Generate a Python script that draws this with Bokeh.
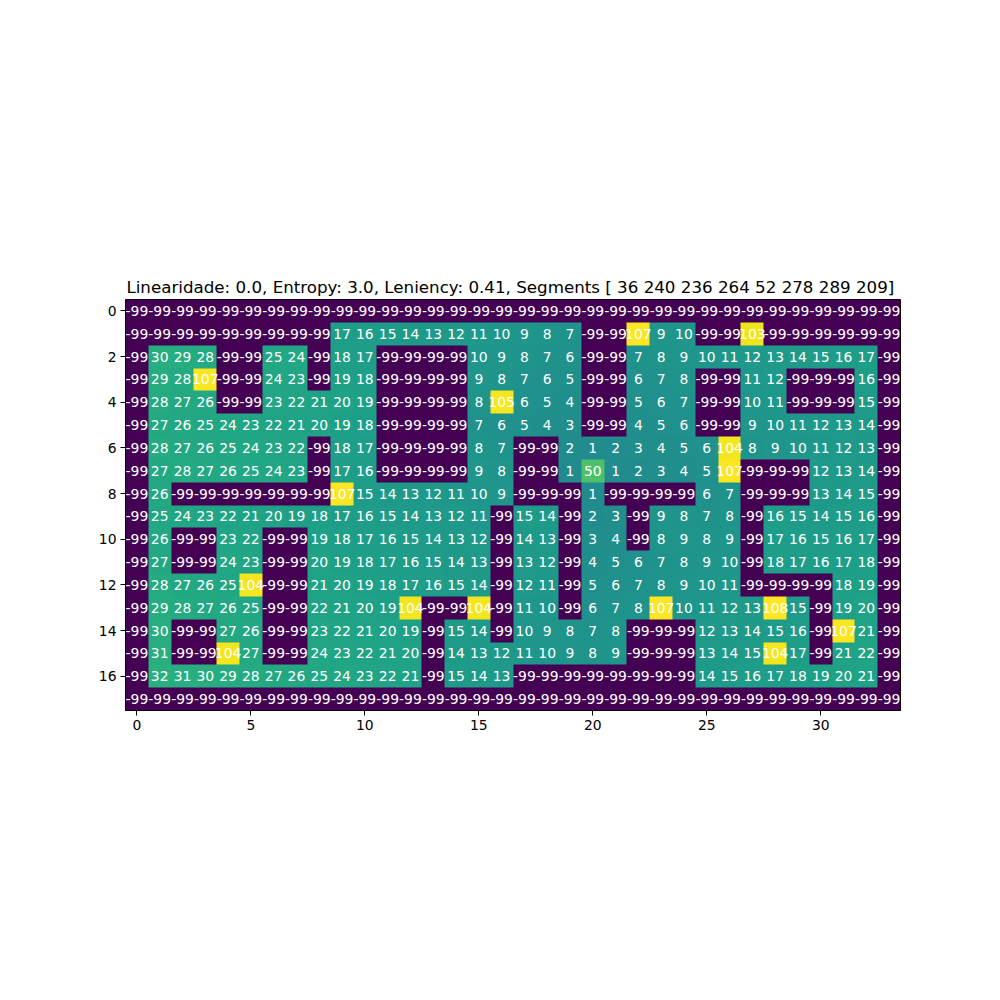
import numpy as np
from bokeh.plotting import figure
from bokeh.models import ColumnDataSource, LinearColorMapper, Range1d, FixedTicker
from bokeh.palettes import Viridis256
from bokeh.core.properties import value
from bokeh.embed import file_html
from bokeh.resources import INLINE

title_text = "Linearidade: 0.0, Entropy: 3.0, Leniency: 0.41, Segments [ 36 240 236 264  52 278 289 209]"

N = -99
grid = [
    [N]*34,
    [N, N, N, N, N, N, N, N, N, 17, 16, 15, 14, 13, 12, 11, 10, 9, 8, 7, N, N, 107, 9, 10, N, N, 103, N, N, N, N, N, N],
    [N, 30, 29, 28, N, N, 25, 24, N, 18, 17, N, N, N, N, 10, 9, 8, 7, 6, N, N, 7, 8, 9, 10, 11, 12, 13, 14, 15, 16, 17, N],
    [N, 29, 28, 107, N, N, 24, 23, N, 19, 18, N, N, N, N, 9, 8, 7, 6, 5, N, N, 6, 7, 8, N, N, 11, 12, N, N, N, 16, N],
    [N, 28, 27, 26, N, N, 23, 22, 21, 20, 19, N, N, N, N, 8, 105, 6, 5, 4, N, N, 5, 6, 7, N, N, 10, 11, N, N, N, 15, N],
    [N, 27, 26, 25, 24, 23, 22, 21, 20, 19, 18, N, N, N, N, 7, 6, 5, 4, 3, N, N, 4, 5, 6, N, N, 9, 10, 11, 12, 13, 14, N],
    [N, 28, 27, 26, 25, 24, 23, 22, N, 18, 17, N, N, N, N, 8, 7, N, N, 2, 1, 2, 3, 4, 5, 6, 104, 8, 9, 10, 11, 12, 13, N],
    [N, 27, 28, 27, 26, 25, 24, 23, N, 17, 16, N, N, N, N, 9, 8, N, N, 1, 50, 1, 2, 3, 4, 5, 107, N, N, N, 12, 13, 14, N],
    [N, 26, N, N, N, N, N, N, N, 107, 15, 14, 13, 12, 11, 10, 9, N, N, N, 1, N, N, N, N, 6, 7, N, N, N, 13, 14, 15, N],
    [N, 25, 24, 23, 22, 21, 20, 19, 18, 17, 16, 15, 14, 13, 12, 11, N, 15, 14, N, 2, 3, N, 9, 8, 7, 8, N, 16, 15, 14, 15, 16, N],
    [N, 26, N, N, 23, 22, N, N, 19, 18, 17, 16, 15, 14, 13, 12, N, 14, 13, N, 3, 4, N, 8, 9, 8, 9, N, 17, 16, 15, 16, 17, N],
    [N, 27, N, N, 24, 23, N, N, 20, 19, 18, 17, 16, 15, 14, 13, N, 13, 12, N, 4, 5, 6, 7, 8, 9, 10, N, 18, 17, 16, 17, 18, N],
    [N, 28, 27, 26, 25, 104, N, N, 21, 20, 19, 18, 17, 16, 15, 14, N, 12, 11, N, 5, 6, 7, 8, 9, 10, 11, N, N, N, N, 18, 19, N],
    [N, 29, 28, 27, 26, 25, N, N, 22, 21, 20, 19, 104, N, N, 104, N, 11, 10, N, 6, 7, 8, 107, 10, 11, 12, 13, 108, 15, N, 19, 20, N],
    [N, 30, N, N, 27, 26, N, N, 23, 22, 21, 20, 19, N, 15, 14, N, 10, 9, 8, 7, 8, N, N, N, 12, 13, 14, 15, 16, N, 107, 21, N],
    [N, 31, N, N, 104, 27, N, N, 24, 23, 22, 21, 20, N, 14, 13, 12, 11, 10, 9, 8, 9, N, N, N, 13, 14, 15, 104, 17, N, 21, 22, N],
    [N, 32, 31, 30, 29, 28, 27, 26, 25, 24, 23, 22, 21, N, 15, 14, 13, N, N, N, N, N, N, N, N, 14, 15, 16, 17, 18, 19, 20, 21, N],
    [N]*34,
]

x_ticks = [0, 5, 10, 15, 20, 25, 30]
y_ticks = [0, 2, 4, 6, 8, 10, 12, 14, 16]

nrows = len(grid)
ncols = len(grid[0])
arr = np.array(grid, dtype=float)

xs, ys, labels = [], [], []
for r, row in enumerate(grid):
    for c, v in enumerate(row):
        xs.append(c)
        ys.append(r)
        labels.append(str(v))
src = ColumnDataSource(dict(x=xs, y=ys, t=labels))

mapper = LinearColorMapper(palette=Viridis256, low=float(arr.min()), high=float(arr.max()))

p = figure(width=992, height=992, output_backend="svg", toolbar_location=None,
           x_range=Range1d(-0.5, ncols - 0.5), y_range=Range1d(nrows - 0.5, -0.5),
           frame_width=775, frame_height=411,
           min_border_left=125, min_border_top=299, min_border_right=92, min_border_bottom=282,
           title=title_text)

p.image(image=[arr], x=-0.5, y=-0.5, dw=ncols, dh=nrows, color_mapper=mapper)
p.text(x="x", y="y", text="t", source=src, text_align="center", text_baseline="middle",
       text_color="white", text_font=value("DejaVu Sans"), text_font_size="13.9px")

p.title.text_font = "DejaVu Sans"
p.title.text_font_size = "16.7px"
p.title.text_font_style = "normal"
p.title.align = "center"
p.title.text_color = "black"
p.title.standoff = 6

p.xgrid.visible = False
p.ygrid.visible = False
p.outline_line_color = "black"
p.outline_line_width = 1
p.background_fill_color = "white"
p.border_fill_color = "white"

for ax in (p.xaxis[0], p.yaxis[0]):
    ax.major_label_text_font = "DejaVu Sans"
    ax.major_label_text_font_size = "13.9px"
    ax.major_label_text_color = "black"
    ax.minor_tick_line_color = None
    ax.major_tick_in = 0
    ax.major_tick_out = 5
    ax.major_tick_line_color = "black"
    ax.axis_line_color = "black"
    ax.major_label_standoff = 4

p.xaxis[0].ticker = FixedTicker(ticks=x_ticks)
p.yaxis[0].ticker = FixedTicker(ticks=y_ticks)

open("out.html", "w").write(file_html(p, INLINE))
